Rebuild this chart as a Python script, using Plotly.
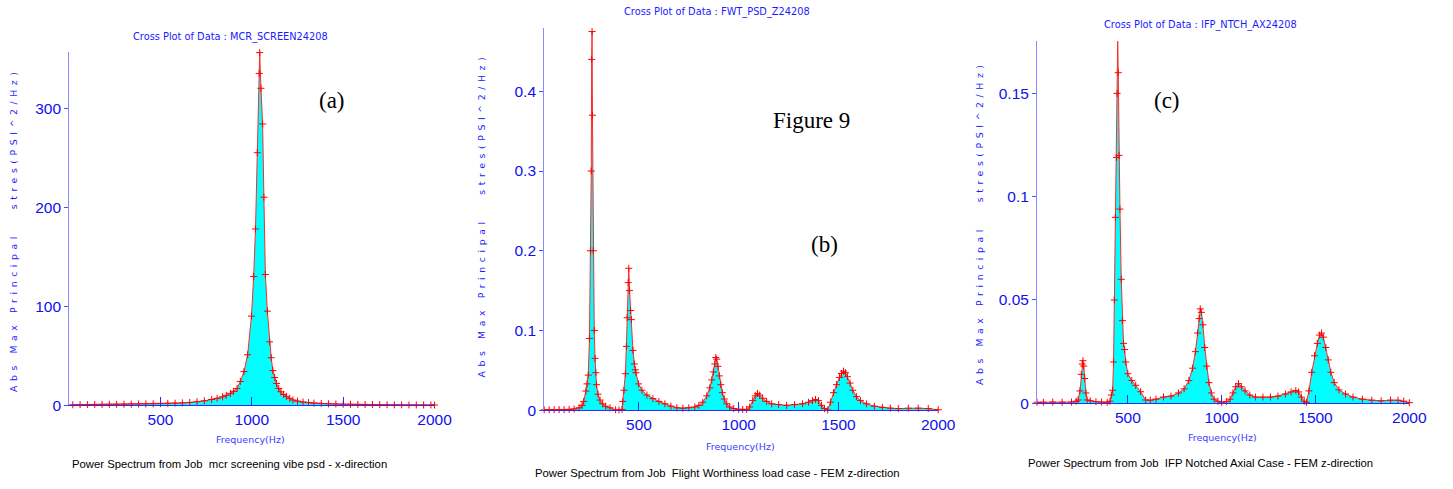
import plotly.graph_objects as go

# ---------------- data ----------------
freq_a = [20, 60, 100, 140, 180, 220, 260, 300, 340, 380, 420, 460, 500, 540, 580, 620, 660, 700,
          740, 780, 810, 840, 860, 883, 900, 919, 937, 957, 977, 998, 1010, 1020, 1030, 1040, 1043,
          1050, 1059, 1066, 1074, 1085, 1097, 1106, 1115, 1125, 1135, 1147, 1159, 1174, 1189, 1207,
          1225, 1250, 1280, 1310, 1340, 1380, 1420, 1460, 1500, 1540, 1580, 1620, 1660, 1700, 1740,
          1780, 1820, 1860, 1900, 1940, 1980, 2000]
psd_a = [0.5, 0.6, 0.7, 0.8, 0.9, 1.0, 1.0, 1.1, 1.2, 1.3, 1.4, 1.5, 1.7, 1.9, 2.1, 2.4, 2.8, 3.5,
         4.5, 5.8, 7, 8.5, 10, 12, 14, 17, 24, 34, 51, 90, 130, 178, 255, 335, 356,
         320, 284, 210, 132, 95, 64, 48, 35, 28, 22, 17, 13.6, 11, 9, 7,
         5.3, 4.2, 3.3, 2.7, 2.2, 1.8, 1.5, 1.3, 1.1, 1.0, 0.9, 0.8, 0.7, 0.6, 0.5,
         0.4, 0.4, 0.3, 0.3, 0.3, 0.3, 0.3]

freq_b = [25, 50, 75, 100, 125, 150, 175, 200, 215, 223, 234, 240, 246, 252, 257, 261, 263, 265, 267,
          271, 276, 280, 284, 287, 295, 305, 318, 333, 355, 383, 400, 415, 419, 425, 432, 437, 441,
          446, 449, 453, 458, 462, 470, 477, 482, 485, 498, 515, 540, 570, 600, 630, 660, 690, 720,
          750, 780, 800, 820, 840, 855, 865, 873, 880, 885, 890, 896, 903, 910, 918, 928, 940, 955,
          975, 1000, 1020, 1040, 1055, 1070, 1083, 1094, 1105, 1120, 1140, 1165, 1200, 1240, 1280,
          1320, 1350, 1370, 1385, 1400, 1415, 1430, 1446, 1460, 1475, 1490, 1505, 1515, 1525, 1535,
          1545, 1558, 1572, 1590, 1610, 1640, 1680, 1720, 1760, 1800, 1850, 1900, 1950, 2000]
psd_b = [0.0005, 0.0005, 0.0006, 0.0007, 0.0008, 0.001, 0.0015, 0.003, 0.006, 0.011, 0.024, 0.033,
         0.044, 0.09, 0.2, 0.30, 0.44, 0.475, 0.37,
         0.2, 0.1, 0.065, 0.047, 0.032, 0.02, 0.0127, 0.008, 0.005, 0.003, 0.0005, 0.0003, 0.001,
         0.011, 0.025, 0.0457, 0.08, 0.116,
         0.16, 0.178, 0.15, 0.125, 0.1136, 0.075, 0.058, 0.0506, 0.047, 0.033, 0.025, 0.019, 0.0145,
         0.011, 0.008, 0.005, 0.003, 0.0025,
         0.003, 0.004, 0.006, 0.01, 0.018, 0.028, 0.038, 0.048, 0.058, 0.066, 0.064, 0.055, 0.043,
         0.032, 0.022, 0.014, 0.008, 0.004,
         0.002, 0.001, 0.001, 0.001, 0.004, 0.012, 0.018, 0.021, 0.019, 0.015, 0.011, 0.008, 0.007,
         0.006, 0.007,
         0.008, 0.01, 0.012, 0.0135, 0.012, 0.006, 0.002, 0.0003, 0.01, 0.022, 0.032, 0.041, 0.046,
         0.049, 0.047,
         0.042, 0.034, 0.025, 0.017, 0.012, 0.008, 0.005, 0.0035, 0.0025, 0.002, 0.0025, 0.0025,
         0.002, 0.0005]

freq_c = [16, 50, 100, 150, 200, 225, 235, 245, 252, 257, 261, 265, 270, 277, 283, 300, 330, 360, 390,
          405, 412, 419, 424, 428, 434, 440, 443, 446, 449, 453, 458, 465, 471, 477, 483, 489, 500,
          521, 542, 568, 595, 620, 650, 690, 730, 770, 800, 825, 845, 860, 872, 880, 886, 892, 900,
          910, 920, 932, 945, 960, 980, 1000, 1025, 1045, 1060, 1075, 1090, 1105, 1125, 1150, 1180,
          1220, 1260, 1300, 1340, 1370, 1395, 1410, 1425, 1440, 1452, 1465, 1480, 1495, 1510, 1522,
          1532, 1542, 1555, 1568, 1582, 1600, 1625, 1660, 1700, 1750, 1800, 1850, 1900, 1940, 1970,
          2000]
psd_c = [0.0005, 0.0005, 0.0006, 0.0005, 0.0006, 0.001, 0.0016, 0.006, 0.014, 0.019, 0.0206, 0.018,
         0.012, 0.005, 0.0016, 0.0012, 0.0008, 0.0006, 0.0005,
         0.001, 0.004, 0.0063, 0.02, 0.05, 0.09, 0.119, 0.15, 0.176, 0.16, 0.12, 0.094, 0.06, 0.04,
         0.029, 0.026, 0.02, 0.0143,
         0.011, 0.0087, 0.0056, 0.0016, 0.0015, 0.002, 0.003, 0.0035, 0.005, 0.007, 0.011, 0.017,
         0.025, 0.034, 0.041, 0.0457, 0.044, 0.038,
         0.027, 0.018, 0.01, 0.005, 0.002, 0.001, 0.0005, 0.0008, 0.002, 0.005, 0.008, 0.0095, 0.008,
         0.006, 0.004, 0.003,
         0.003, 0.003, 0.0035, 0.0045, 0.0055, 0.0062, 0.0055, 0.003, 0.001, 0.0005, 0.006, 0.015,
         0.023, 0.029, 0.033,
         0.034, 0.032, 0.027, 0.021, 0.015, 0.01, 0.0065, 0.0045, 0.003, 0.002, 0.0015, 0.0012,
         0.0015, 0.0015, 0.001, 0.0003]

x_ticks = [500, 1000, 1500, 2000]
y_ticks_a = [0, 100, 200, 300]
y_ticks_b = [0, 0.1, 0.2, 0.3, 0.4]
y_ticks_c = [0, 0.05, 0.1, 0.15]

titles = ["Cross Plot of Data : MCR_SCREEN24208",
          "Cross Plot of Data : FWT_PSD_Z24208",
          "Cross Plot of Data : IFP_NTCH_AX24208"]
captions = ["Power Spectrum from Job  mcr screening vibe psd - x-direction",
            "Power Spectrum from Job  Flight Worthiness load case - FEM z-direction",
            "Power Spectrum from Job  IFP Notched Axial Case - FEM z-direction"]
x_title = "Frequency(Hz)"
y_title = "Abs Max Principal   stres(PSI^2/Hz)"
labels = ["(a)", "(b)", "(c)"]
fig_label = "Figure 9"

# ---------------- figure ----------------
W, H = 1453, 489
def px(x):
    return x / W
def py(y):
    return 1 - y / H

fig = go.Figure()
series = [(freq_a, psd_a), (freq_b, psd_b), (freq_c, psd_c)]
for i, (fx, fy) in enumerate(series):
    sfx = "" if i == 0 else str(i + 1)
    fig.add_trace(go.Scatter(
        x=fx, y=fy, xaxis="x" + sfx, yaxis="y" + sfx,
        mode="lines+markers", fill="tozeroy", fillcolor="#00ffff",
        line=dict(color="#ff2a2a", width=1),
        marker=dict(symbol="cross-thin", size=5, color="#ff0000",
                    line=dict(color="#ff0000", width=1)),
        cliponaxis=False, showlegend=False, hoverinfo="x+y"))

tickfont = dict(family="Liberation Sans, Arial, sans-serif", size=15.5, color="#1010ee")

# geometry in pixels: (x_left, x_right, y_bottom, y_top, xrange_start, ymax)
geo = [(70, 440, 412, 53, 0, 356.5),
       (551, 950, 417, 28, 25, 0.480),
       (1050, 1427, 410, 42, 16, 0.1752)]
yticks = [y_ticks_a, y_ticks_b, y_ticks_c]

layout = dict(width=W, height=H, margin=dict(l=0, r=0, t=0, b=0),
              paper_bgcolor="white", plot_bgcolor="white", showlegend=False)
for i, (xl, xr, yb, yt, x0, ymax) in enumerate(geo):
    sfx = "" if i == 0 else str(i + 1)
    layout["xaxis" + sfx] = dict(
        domain=[px(xl), px(xr)], range=[x0, 2000], anchor="y" + sfx,
        showline=True, linecolor="#2a2aff", linewidth=1,
        ticks="inside", ticklen=8, tickcolor="#2a2aff", tickwidth=1,
        tickvals=x_ticks, tickfont=tickfont, showgrid=False, zeroline=False)
    layout["yaxis" + sfx] = dict(
        domain=[py(yb), py(yt)], range=[0, ymax], anchor="x" + sfx,
        showline=True, linecolor="#8a8aff", linewidth=1,
        ticks="outside", ticklen=4, tickcolor="#4a4aff", tickwidth=1,
        tickvals=yticks[i], tickfont=tickfont, showgrid=False, zeroline=False)
fig.update_layout(**layout)

small_blue = dict(family="DejaVu Sans, Verdana, sans-serif", size=9.8, color="#1a1aff")
ann = []
title_pos = [(233, 38), (726, 12.5), (1216, 25)]
xt_pos = [(254, 447), (750, 454), (1238, 445)]
cap_pos = [(232.5, 472), (726, 480.5), (1216, 470.5)]
yt_pos = [(13, 233), (487, 218), (992, 226)]
lab_pos = [(336, 102), (835, 249), (1182, 102)]
for i in range(3):
    ann.append(dict(text=titles[i], x=px(title_pos[i][0]), y=py(title_pos[i][1]),
                    xref="paper", yref="paper", showarrow=False, font=small_blue,
                    xanchor="center", yanchor="middle"))
    ann.append(dict(text=x_title, x=px(xt_pos[i][0]), y=py(xt_pos[i][1]),
                    xref="paper", yref="paper", showarrow=False,
                    font=dict(family="DejaVu Sans, Verdana, sans-serif", size=9.5, color="#3a3aff"),
                    xanchor="center", yanchor="middle"))
    ann.append(dict(text=captions[i], x=px(cap_pos[i][0]), y=py(cap_pos[i][1]),
                    xref="paper", yref="paper", showarrow=False,
                    font=dict(family="Liberation Sans, Arial, sans-serif", size=11.3, color="black"),
                    xanchor="center", yanchor="middle"))
    ann.append(dict(text='<span style="letter-spacing:4.6px">' + y_title + '</span>',
                    x=px(yt_pos[i][0]), y=py(yt_pos[i][1]),
                    xref="paper", yref="paper", showarrow=False, textangle=-90,
                    font=dict(family="DejaVu Sans, Verdana, sans-serif", size=9.3, color="#1a1aff"),
                    xanchor="center", yanchor="middle"))
    ann.append(dict(text=labels[i], x=px(lab_pos[i][0]), y=py(lab_pos[i][1]),
                    xref="paper", yref="paper", showarrow=False,
                    font=dict(family="Liberation Serif, Times New Roman, serif", size=23, color="black"),
                    xanchor="center", yanchor="middle"))
ann.append(dict(text=fig_label, x=px(822), y=py(122), xref="paper", yref="paper",
                showarrow=False,
                font=dict(family="Liberation Serif, Times New Roman, serif", size=23, color="black"),
                xanchor="center", yanchor="middle"))
fig.update_layout(annotations=ann)

fig.write_html("out.html")
